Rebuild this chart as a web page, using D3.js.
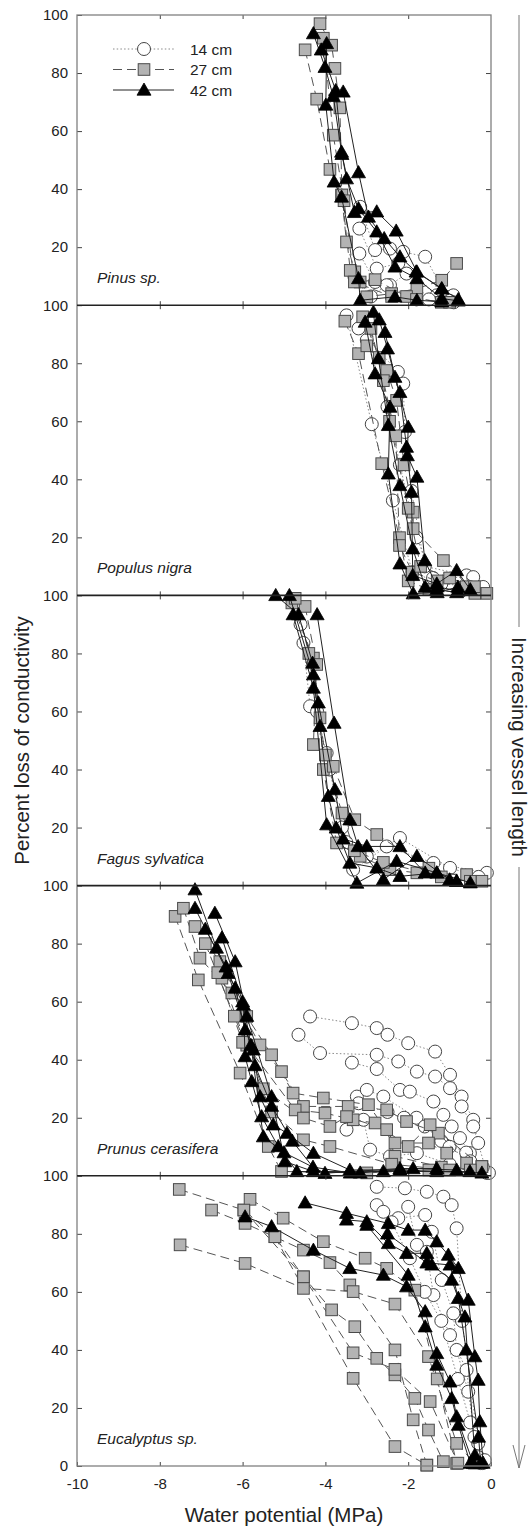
<!DOCTYPE html>
<html>
<head>
<meta charset="utf-8">
<script src="https://cdn.jsdelivr.net/npm/d3@7"></script>
<style>
  body { margin: 0; background: #fff; }
  #svg-container { width: 529px; height: 1530px; }
  text { font-family: "Liberation Sans", Arial, sans-serif; fill: #222; }
</style>
</head>
<body>
<div id="svg-container"></div>
<script>
// tick values and labels
var xTicks = [-10, -8, -6, -4, -2, 0];
var yTicks = [20, 40, 60, 80, 100];
var species = ["Pinus sp.", "Populus nigra", "Fagus sylvatica", "Prunus cerasifera", "Eucalyptus sp."];
var seriesLabels = ["14 cm", "27 cm", "42 cm"];

// each curve: [water potential (MPa), percent loss of conductivity]
var pinus14 = [
  [[-3.16,33.9],[-2.8,19],[-2.44,19.5],[-2.12,18.4],[-1.59,16.7],[-1.07,2.9]],
  [[-3.18,26.4],[-2.76,12.6],[-2.24,14.4],[-1.31,3.4],[-0.91,3.4]],
  [[-3.18,17.8],[-2.8,8],[-2.44,6.9],[-2.04,10.9],[-1.5,2],[-0.9,1]],
  [[-3.3,10],[-2.9,3],[-2.52,6.9],[-1.8,2],[-1.0,1.5]]
];
var pinus27 = [
  [[-4.49,88],[-4.21,71],[-3.89,46.8],[-3.61,37.9],[-3.49,21.8],[-3.29,11.5],[-3.0,2.9],[-2.4,4],[-1.79,5.7],[-1.19,8.6],[-0.83,14.4]],
  [[-4.13,97],[-3.85,89.6],[-3.77,81.6],[-3.65,68],[-3.6,38],[-3.4,12],[-3.16,8],[-2.8,8.8],[-2.04,3],[-1.2,1]],
  [[-4.05,92],[-3.81,58.6],[-3.55,36],[-3.3,8],[-2.4,3],[-1.8,2],[-1.0,1]]
];
var pinus42 = [
  [[-4.29,93.6],[-4.01,82],[-3.81,72],[-3.61,52.8],[-3.49,43.6],[-3.2,33.3],[-2.76,25.3],[-2.32,13.2],[-1.79,9.2],[-1.19,2.3],[-0.79,1.5]],
  [[-3.97,90.2],[-3.99,69],[-3.79,42.5],[-3.61,37.3],[-3.2,9.2],[-3.16,1.7],[-2.32,2.9],[-1.79,1.7],[-1.19,1.2]],
  [[-3.57,73.5],[-3.2,45.7],[-2.96,30.4],[-2.58,23],[-2.2,16.7],[-1.81,11.5],[-1.19,5.7],[-0.79,2]],
  [[-4.1,88],[-3.75,74],[-3.6,52],[-3.3,32],[-2.76,32.2],[-2.29,25.6],[-1.79,11.5],[-1.19,5.7]]
];

var populus14 = [
  [[-3.49,96.5],[-2.88,59],[-2.37,32.7],[-1.9,8],[-1.2,4],[-0.34,3]],
  [[-3.2,92],[-2.25,77],[-2.12,73],[-2.08,56.3],[-1.92,36],[-1.6,10],[-0.59,6.9],[-0.19,2.9]],
  [[-3.0,88],[-2.5,65],[-2.2,45],[-1.8,20],[-1.4,6],[-0.43,6.3]]
];
var populus27 = [
  [[-3.53,94.5],[-3.2,83.3],[-2.64,45.4],[-2.21,19.9],[-2.0,5],[-1.5,2],[-0.39,0.7]],
  [[-3.0,86],[-2.52,77.5],[-2.28,67.2],[-2.1,45],[-1.88,28.7],[-1.88,23],[-1.15,12],[-0.1,0.7]],
  [[-2.9,92],[-2.6,74],[-2.3,55],[-2.21,17.2],[-1.9,8],[-1.3,5],[-0.6,3]],
  [[-3.1,96],[-2.7,82],[-2.45,60],[-2.0,30],[-1.7,10],[-1.0,6],[-0.4,3]]
];
var populus42 = [
  [[-2.84,97.6],[-2.72,81.6],[-2.48,58.6],[-2.2,37.9],[-1.89,16.1],[-1.59,2.9],[-1.31,2],[-0.83,1]],
  [[-3.04,94.2],[-2.8,76.4],[-2.44,64.9],[-2.48,41.9],[-2.2,10.9],[-1.88,0.6],[-1.3,1],[-0.8,2.9]],
  [[-2.56,90.7],[-2.32,75.2],[-2.2,70],[-2.04,51.1],[-1.92,35.6],[-1.89,6.9],[-1.31,4],[-0.83,8.6],[-0.5,2]],
  [[-2.7,95],[-2.5,85],[-2.0,58],[-2.02,48.2],[-1.79,40.8],[-1.6,12],[-1.3,3],[-0.8,1.5]]
];

var fagus14 = [
  [[-4.53,83.6],[-4.37,61.8],[-3.97,45.7],[-3.6,20],[-3.33,5.5],[-2.52,13.5],[-1.39,7.8],[-0.1,4.4]],
  [[-4.6,90],[-4.2,60],[-3.9,40],[-3.5,15],[-3.0,10],[-2.2,16.4],[-0.99,6.1],[-0.3,3]]
];
var fagus27 = [
  [[-4.81,97.4],[-4.29,78.4],[-4.13,57.8],[-4.05,40],[-3.73,14.7],[-3.16,10.1],[-2.44,5.5],[-1.79,4.4],[-0.59,3.8]],
  [[-4.49,96.2],[-4.21,76.2],[-4.29,48.6],[-3.81,41.1],[-3.29,22.7],[-2.76,17.6],[-1.5,6],[-0.22,1.5]],
  [[-4.73,99],[-4.4,80],[-4.0,45],[-3.6,25],[-3.3,12],[-2.6,8],[-1.2,3],[-0.5,1.5]]
];
var fagus42 = [
  [[-5.2,100],[-4.65,93.4],[-4.31,76.7],[-4.17,63],[-3.77,33.1],[-3.57,16.1],[-3.0,13.5],[-2.2,13.5],[-1.59,4.4],[-0.83,1.5]],
  [[-4.87,100],[-4.29,72.7],[-4.13,54.9],[-3.93,30.8],[-3.74,19.9],[-3.41,7.8],[-2.76,6.1],[-2.2,3.2],[-1.31,4.4],[-0.5,1]],
  [[-4.2,93.4],[-3.79,56],[-3.41,22.7],[-3.21,13.5],[-2.6,2.1],[-1.79,10.1],[-1.0,2]],
  [[-4.78,93.4],[-4.29,68.1],[-3.97,21],[-3.24,0.9],[-2.28,8.4],[-1.31,4.4],[-0.83,1.5]]
];

var prunus14 = [
  [[-4.37,54.9],[-3.36,52.6],[-2.76,50.9],[-2.5,48.6],[-2.0,45.7],[-1.35,42.8],[-0.99,34.8],[-0.71,27.3],[-0.43,19.3],[-0.31,11.3]],
  [[-4.65,48.6],[-4.13,42.3],[-2.76,41.7],[-2.24,39.4],[-1.79,35.9],[-1.35,34.2],[-0.99,30.2],[-0.71,23.9],[-0.43,17],[-0.1,1]],
  [[-3.36,39],[-2.76,36.8],[-2.2,29.6],[-1.96,29],[-1.39,25.6],[-1.15,21],[-0.95,17],[-0.75,13],[-0.51,7.8],[-0.05,1]],
  [[-3.24,27.3],[-3.0,29.6],[-2.6,27.3],[-1.8,20],[-1.2,12],[-0.6,8],[-0.2,3]],
  [[-3.49,15.9],[-3.08,19.3],[-2.92,9],[-2.44,6.7],[-1.79,7.8],[-1.0,4],[-0.3,2]],
  [[-3.2,25],[-2.5,22],[-2.1,20],[-1.6,17],[-1.0,10],[-0.5,5]]
];
var prunus27 = [
  [[-7.63,89.4],[-7.07,67.5],[-6.06,35.4],[-5.38,10.1],[-5.06,1.5],[-3.0,1],[-1.5,2],[-0.22,3.2]],
  [[-7.43,92.2],[-7.03,75],[-6.26,63],[-5.58,45.1],[-5.06,35.9],[-4.53,23.9],[-3.45,23.9],[-2.52,22.7],[-2.04,18.7],[-1.27,14.7],[-0.59,4.4]],
  [[-7.15,85.9],[-6.55,73.8],[-5.9,54.9],[-5.3,41.7],[-4.78,28.5],[-4.05,26.8],[-2.96,24.5],[-2.32,11.3],[-1.51,11.3],[-1.07,7.8]],
  [[-6.5,68.1],[-5.9,45],[-4.73,22.7],[-4.01,21.6],[-3.33,19.3],[-2.8,18.2],[-2.0,10.1],[-1.47,17.6],[-0.22,3.2]],
  [[-6.9,80],[-6.2,55],[-5.5,30],[-4.53,19.9],[-3.89,17],[-3.49,20.4],[-2.52,15.9],[-2.32,6.7],[-1.2,3],[-0.5,2]],
  [[-6.6,70],[-6.0,46],[-5.3,22],[-4.53,12.4],[-3.89,10.1],[-2.4,4],[-1.0,2]]
];
var prunus42 = [
  [[-7.15,98.6],[-6.63,78.5],[-6.18,64.7],[-5.94,50.3],[-5.74,43.4],[-5.58,27.3],[-5.26,17.6],[-4.93,14.7],[-4.29,7.8],[-3.41,2],[-2.2,2],[-1.31,1.5],[-0.22,1]],
  [[-7.15,92.2],[-6.35,69.8],[-5.98,58.9],[-5.94,41.1],[-5.78,32.5],[-5.54,20.4],[-5.14,10.1],[-4.69,1.5],[-3.16,1],[-1.88,2.5],[-0.83,2]],
  [[-6.67,90.5],[-6.18,73.8],[-5.9,55],[-5.3,27.3],[-4.98,4.9],[-4.29,1.5],[-2.6,1.5],[-0.51,1.5]],
  [[-6.9,85],[-6.4,72],[-5.8,45],[-5.5,13.5],[-5.0,8],[-4.01,0.9],[-2.2,2.5],[-1.31,2.5]],
  [[-6.5,82],[-6.0,60],[-5.7,38],[-5.3,24],[-4.8,12],[-4.3,3],[-3.4,1]]
];

var eucalyptus14 = [
  [[-2.76,96.2],[-2.08,95.7],[-1.55,94.5],[-1.15,92.8],[-0.95,89.9],[-0.83,81.9],[-0.7,50],[-0.31,7.8],[-0.2,1]],
  [[-2.76,89.9],[-2.6,87.6],[-2.24,85.4],[-1.59,86.5],[-1.43,80.7],[-1.19,64.1],[-0.91,52.6],[-0.83,40],[-0.55,25.6],[-0.3,3]],
  [[-2.0,89.3],[-1.79,76.2],[-1.55,73.8],[-1.39,58.9],[-0.99,45.1],[-0.59,33.1],[-0.4,10],[-0.25,1]],
  [[-2.4,84],[-1.96,71.6],[-1.6,60],[-1.2,50],[-0.8,30],[-0.5,15],[-0.15,2]]
];
var eucalyptus27 = [
  [[-7.53,95.3],[-5.97,88.2],[-5.22,79],[-4.53,65.2],[-3.85,53.8],[-3.29,48],[-2.76,37.1],[-2.32,31.4],[-1.84,23.3],[-1.51,12.4],[-1.15,1.5]],
  [[-6.75,88.2],[-5.94,83.6],[-4.53,74.4],[-3.89,70.1],[-3.41,62.4],[-2.32,40],[-1.88,15.9],[-1.55,0.3]],
  [[-7.51,76.2],[-5.94,69.8],[-4.53,61.2],[-3.33,60.1],[-2.32,55.8],[-1.51,37.7],[-0.83,7.8],[-0.4,1]],
  [[-5.82,91.9],[-5.02,85.4],[-4.05,77.3],[-3.04,71.6],[-2.52,68.1],[-1.84,60.6],[-1.3,30],[-0.83,0.9]],
  [[-5.97,88.2],[-4.53,65.2],[-3.33,39],[-2.32,33.3],[-1.47,22.2],[-0.8,1]],
  [[-5.22,79],[-3.33,30.2],[-2.32,6.7],[-1.55,0.3]]
];
var eucalyptus42 = [
  [[-4.49,90.7],[-3.49,87.1],[-2.48,83.6],[-2.0,81.3],[-1.59,81.3],[-1.31,77.3],[-1.03,72.7],[-0.79,68.1],[-0.55,57.2],[-0.39,37.7],[-0.31,29.6],[-0.27,15.3],[-0.19,1]],
  [[-5.94,85.9],[-5.3,82.5],[-4.29,74.4],[-3.41,68.1],[-2.6,65.8],[-2.04,61.8],[-1.59,53.2],[-1.31,38.8],[-0.99,29],[-0.83,17],[-0.43,0.9]],
  [[-3.49,84.8],[-3.0,84.2],[-2.48,76.7],[-2.04,73.3],[-1.55,73.3],[-1.43,69.3],[-0.95,64.1],[-0.63,51.4],[-0.39,3.8]],
  [[-3.0,83],[-2.0,65.8],[-1.59,48],[-1.31,34.8],[-0.95,23.3],[-0.79,14.1],[-0.5,1]],
  [[-2.5,80],[-1.55,70],[-0.99,69.3],[-0.79,57.8],[-0.6,40],[-0.3,10],[-0.25,1]]
];

var panels = [
  [pinus14, pinus27, pinus42],
  [populus14, populus27, populus42],
  [fagus14, fagus27, fagus42],
  [prunus14, prunus27, prunus42],
  [eucalyptus14, eucalyptus27, eucalyptus42]
];

var width = 529, height = 1530;
var plotLeft = 77, plotRight = 491, plotTop = 15, panelH = 290.2;
var plotBottom = plotTop + panels.length * panelH;

var svg = d3.select("#svg-container")
            .append("svg")
            .attr("width", width)
            .attr("height", height);

var scaleX = d3.scaleLinear()
               .domain([-10, 0])
               .range([plotLeft, plotRight]);

// line styles per series: 14 cm dotted, 27 cm dashed, 42 cm solid
var lineStyle = [
  { stroke: "#8a8a8a", dash: "1.5,2.2" },
  { stroke: "#555", dash: "9,5" },
  { stroke: "#222", dash: null }
];

function drawMarker(g, type, cx, cy) {
  if (type === 0) {
    g.append("circle")
     .attr("cx", cx).attr("cy", cy).attr("r", 6.5)
     .attr("fill", "#fff").attr("stroke", "#444").attr("stroke-width", 1);
  } else if (type === 1) {
    g.append("rect")
     .attr("x", cx - 5.8).attr("y", cy - 5.8)
     .attr("width", 11.6).attr("height", 11.6)
     .attr("fill", "#b3b3b3").attr("stroke", "#4a4a4a").attr("stroke-width", 1);
  } else {
    g.append("path")
     .attr("transform", "translate(" + cx + "," + cy + ")")
     .attr("d", "M0,-7L7,5.2L-7,5.2Z")
     .attr("fill", "#000").attr("stroke", "#000").attr("stroke-width", 0.8);
  }
}

panels.forEach(function(panel, i) {
  var y0 = plotTop + i * panelH;
  var y1 = y0 + panelH;

  var scaleY = d3.scaleLinear()
                 .domain([0, 100])
                 .range([y1, y0]);

  var g = svg.append("g").attr("class", "panel");

  // left axis with labels
  var ticks = (i === panels.length - 1) ? [0].concat(yTicks) : yTicks;
  g.append("g")
   .attr("class", "yAxis")
   .attr("transform", "translate(" + plotLeft + ",0)")
   .call(d3.axisLeft(scaleY)
           .tickValues(ticks)
           .tickSizeInner(-5)
           .tickSizeOuter(0)
           .tickPadding(9)
           .tickFormat(function(d) { return String(d); }));

  // right axis ticks only
  g.append("g")
   .attr("class", "yAxis")
   .attr("transform", "translate(" + plotRight + ",0)")
   .call(d3.axisRight(scaleY)
           .tickValues([20, 40, 60, 80])
           .tickSizeInner(-5)
           .tickSizeOuter(0)
           .tickFormat(""));

  // top and bottom inward ticks
  g.append("g")
   .attr("class", "xAxis")
   .attr("transform", "translate(0," + y0 + ")")
   .call(d3.axisTop(scaleX)
           .tickValues([-8, -6, -4, -2])
           .tickSizeInner(-4)
           .tickSizeOuter(0)
           .tickFormat(""));

  var bottomAxis = d3.axisBottom(scaleX)
                     .tickSizeInner(-4)
                     .tickSizeOuter(0);
  if (i === panels.length - 1) {
    bottomAxis.tickValues(xTicks)
              .tickPadding(12)
              .tickFormat(function(d) { return String(d); });
  } else {
    bottomAxis.tickValues([-8, -6, -4, -2]).tickFormat("");
  }
  g.append("g")
   .attr("class", "xAxis")
   .attr("transform", "translate(0," + y1 + ")")
   .call(bottomAxis);

  // species label
  g.append("text")
   .attr("x", 97)
   .attr("y", y1 - 22)
   .style("font-size", "15.5px")
   .style("font-style", "italic")
   .text(species[i]);

  var line = d3.line()
               .x(function(d) { return scaleX(d[0]); })
               .y(function(d) { return scaleY(d[1]); });

  panel.forEach(function(curves, s) {
    var sg = g.append("g").attr("class", "series");
    curves.forEach(function(curve) {
      sg.append("path")
        .datum(curve)
        .attr("fill", "none")
        .attr("stroke", lineStyle[s].stroke)
        .attr("stroke-width", 1)
        .attr("stroke-dasharray", lineStyle[s].dash)
        .attr("d", line);
    });
    curves.forEach(function(curve) {
      curve.forEach(function(p) {
        drawMarker(sg, s, scaleX(p[0]), scaleY(p[1]));
      });
    });
  });
});

svg.selectAll(".domain").remove();
svg.selectAll(".tick line").attr("stroke", "#444");
svg.selectAll(".tick text")
   .style("font-size", "15px")
   .style("font-family", "'Liberation Sans', Arial, sans-serif")
   .attr("fill", "#222");

// frame
svg.append("rect")
   .attr("x", plotLeft)
   .attr("y", plotTop)
   .attr("width", plotRight - plotLeft)
   .attr("height", plotBottom - plotTop)
   .attr("fill", "none")
   .attr("stroke", "#808080")
   .attr("stroke-width", 1.3);

for (var k = 1; k < panels.length; k++) {
  svg.append("line")
     .attr("x1", plotLeft).attr("x2", plotRight)
     .attr("y1", plotTop + k * panelH).attr("y2", plotTop + k * panelH)
     .attr("stroke", "#222")
     .attr("stroke-width", 1.6);
}

// legend
var legend = svg.append("g").attr("class", "legend");
seriesLabels.forEach(function(label, s) {
  var ly = 49 + s * 20.5;
  legend.append("line")
        .attr("x1", 113).attr("x2", 174)
        .attr("y1", ly).attr("y2", ly)
        .attr("stroke", lineStyle[s].stroke)
        .attr("stroke-width", 1)
        .attr("stroke-dasharray", lineStyle[s].dash);
  drawMarker(legend, s, 144, ly);
  legend.append("text")
        .attr("x", 190)
        .attr("y", ly + 5.5)
        .style("font-size", "15.5px")
        .text(label);
});

// axis titles
svg.append("text")
   .attr("transform", "translate(29," + ((plotTop + plotBottom) / 2) + ") rotate(-90)")
   .attr("text-anchor", "middle")
   .style("font-size", "20.5px")
   .text("Percent loss of conductivity");

svg.append("text")
   .attr("x", (plotLeft + plotRight) / 2)
   .attr("y", 1522)
   .attr("text-anchor", "middle")
   .style("font-size", "20.5px")
   .text("Water potential (MPa)");

// vessel length arrow
var arrowX = 519, textMid = 747, textHalf = 116;
svg.append("line")
   .attr("x1", arrowX).attr("x2", arrowX)
   .attr("y1", plotTop).attr("y2", textMid - textHalf - 4)
   .attr("stroke", "#777").attr("stroke-width", 1);
svg.append("line")
   .attr("x1", arrowX).attr("x2", arrowX)
   .attr("y1", textMid + textHalf + 4).attr("y2", 1468)
   .attr("stroke", "#777").attr("stroke-width", 1);
svg.append("path")
   .attr("d", "M" + (arrowX - 6) + ",1445L" + arrowX + ",1468L" + (arrowX + 6) + ",1445")
   .attr("fill", "none")
   .attr("stroke", "#777")
   .attr("stroke-width", 1);
svg.append("text")
   .attr("transform", "translate(" + arrowX + "," + textMid + ") rotate(90)")
   .attr("text-anchor", "middle")
   .attr("dominant-baseline", "central")
   .style("font-size", "20.5px")
   .text("Increasing vessel length");
</script>
</body>
</html>
